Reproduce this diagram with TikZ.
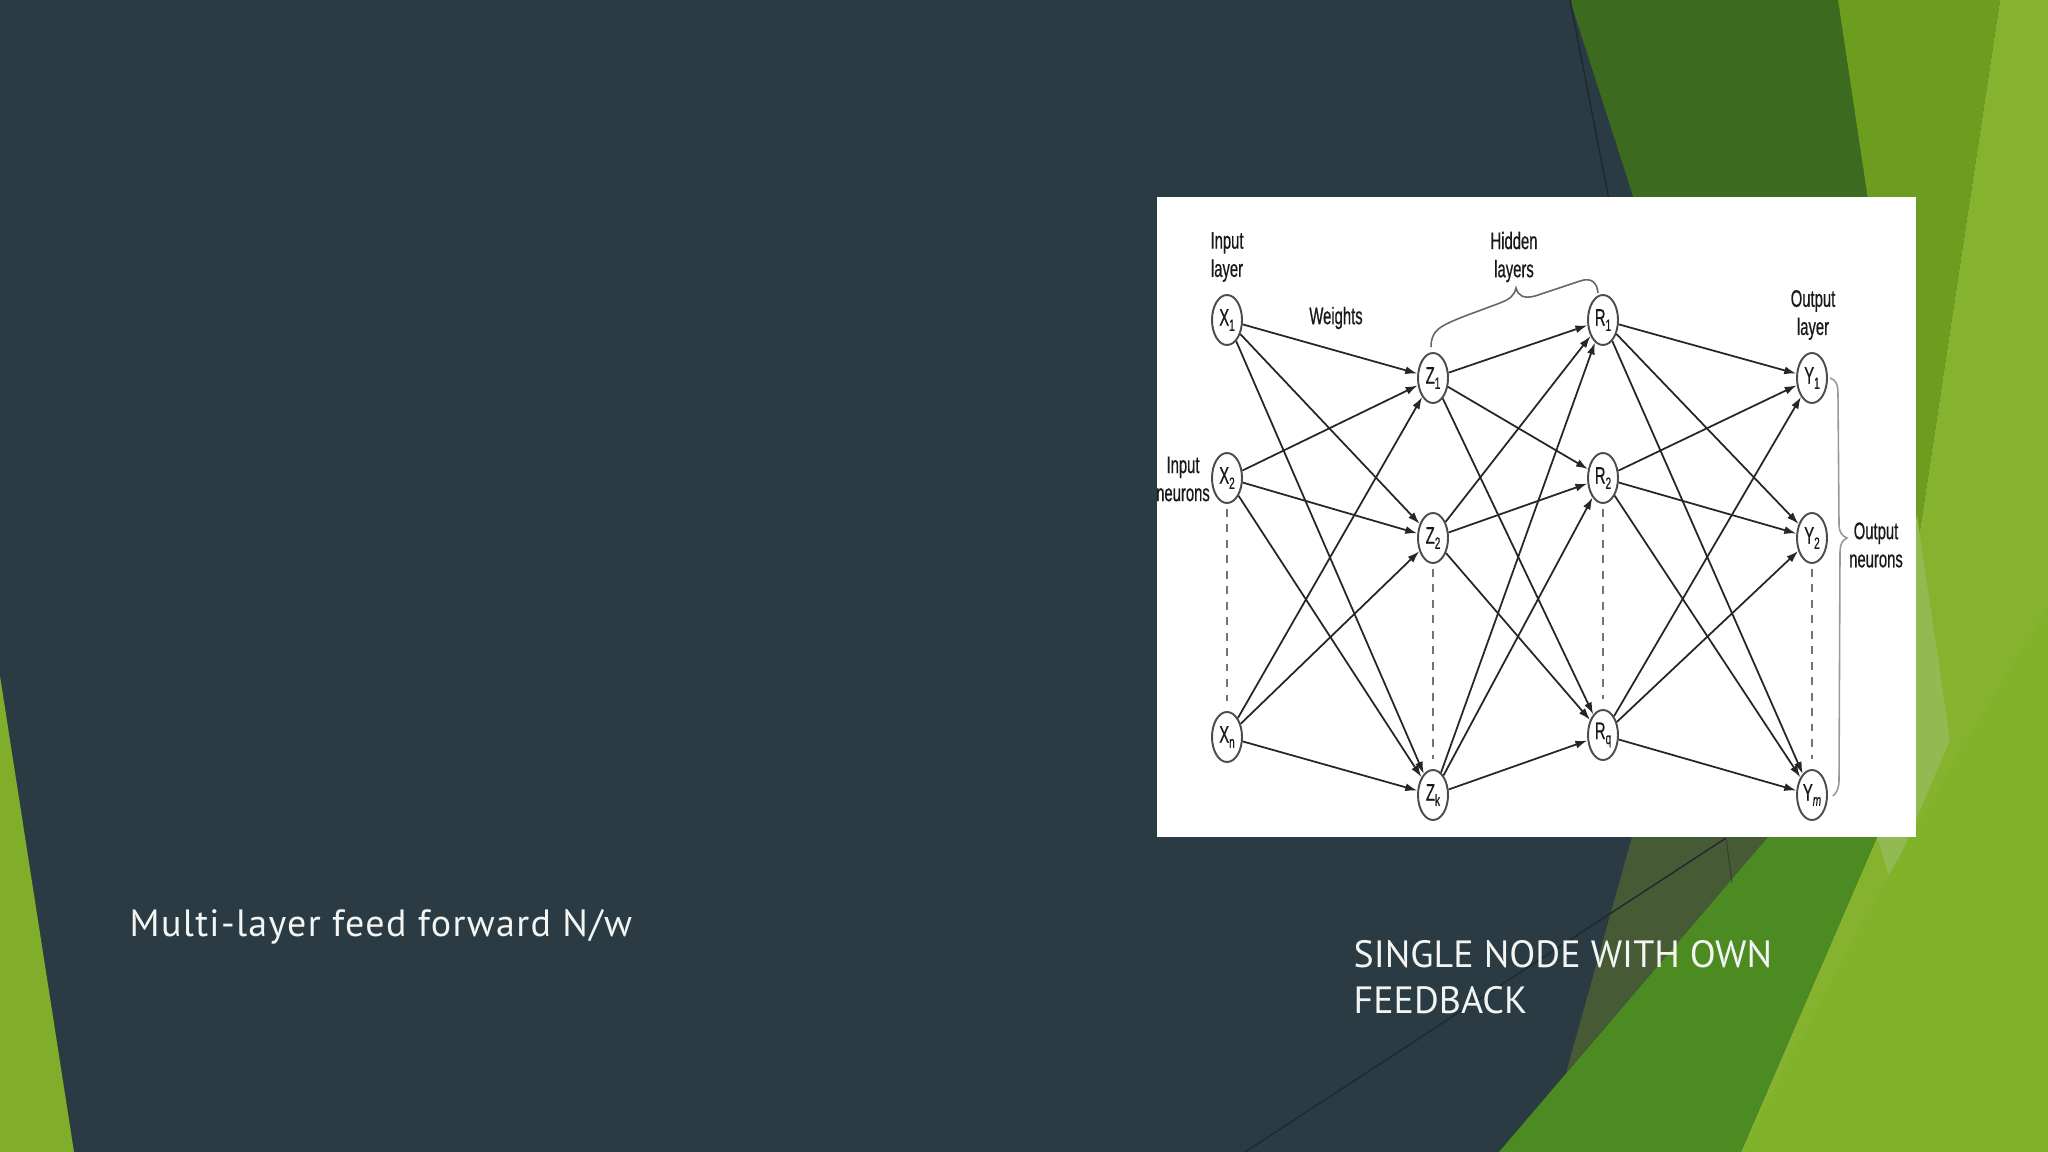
\documentclass[tikz,border=0pt]{standalone}
\usepackage{fontspec}
\setmainfont{PT Sans}
\newfontfamily\diagfont[FakeStretch=0.62,FakeBold=0.6]{Liberation Sans}
\usetikzlibrary{shapes.geometric,arrows.meta}
\definecolor{slate}{HTML}{2B3B43}
\definecolor{leftgreen}{HTML}{80AE2A}
\definecolor{dgreen}{HTML}{3C6A1F}
\definecolor{mgreen}{HTML}{6C9D1F}
\definecolor{lgreen}{HTML}{85B22F}
\definecolor{bgreen}{HTML}{80B22A}
\definecolor{pgreen}{HTML}{92BA52}
\definecolor{olive}{HTML}{475A36}
\definecolor{fgreen}{HTML}{4B8B22}
\definecolor{thinline}{HTML}{1E292F}
\definecolor{slidetext}{HTML}{F2F5F2}
\newcommand\sbs[1]{\raisebox{-0.4ex}{\fontsize{4.6pt}{5pt}\selectfont #1}}
\tikzset{
  neuron/.style={ellipse, draw=black!70, line width=0.55pt, fill=white,
    minimum width=0.30cm, minimum height=0.50cm, inner sep=0pt,
    font=\diagfont\fontsize{6.8pt}{7pt}\selectfont, text=black!90},
  conn/.style={draw=black!85, line width=0.5pt,
    -{Latex[length=0.12cm,width=0.08cm]}},
  dots/.style={draw=black!55, line width=0.45pt, dash pattern=on 2.2pt off 2.2pt},
  lbl/.style={font=\diagfont\fontsize{6.8pt}{8pt}\selectfont, text=black!90,
    align=center, inner sep=0pt},
  slidetxt/.style={font=\fontsize{10.8pt}{13.1pt}\selectfont, text=slidetext,
    inner sep=0pt, anchor=base west},
  bracestyle/.style={draw=black!60, line width=0.45pt},
}
\begin{document}
\begin{tikzpicture}[x=0.01cm,y=-0.01cm]
\useasboundingbox (0,0) rectangle (2048,1152);
% background
\fill[slate] (0,0) rectangle (2048,1152);
\fill[leftgreen] (0,676) -- (74,1152) -- (0,1152) -- cycle;
% top right facets
\fill[dgreen] (1570,0) -- (1838,0) -- (1880,280) -- (1660,280) -- cycle;
\fill[mgreen] (1838,0) -- (2000,0) -- (1917,550) -- (1880,280) -- cycle;
\fill[lgreen] (2000,0) -- (2048,0) -- (2048,1152) -- (1741,1152) -- (1877,837) -- (1917,550) -- cycle;
\fill[pgreen] (1917,515) -- (1950,740) -- (1890,880) -- (1877,837) -- (1900,600) -- cycle;
\fill[bgreen] (2048,607) -- (2048,1152) -- (1741,1152) -- (1880,890) -- (1957,757) -- cycle;
% bottom facets
\fill[olive] (1632,837) -- (1768,837) -- (1566,1073) -- cycle;
\fill[fgreen] (1768,837) -- (1877,837) -- (1741,1152) -- (1499,1152) -- cycle;
\draw[thinline, line width=0.4pt] (1570,0) -- (1609,200);
\draw[thinline, line width=0.4pt] (1726,838) -- (1245,1152);
\draw[thinline, line width=0.3pt, opacity=0.5] (1726,838) -- (1732,883);
% white image box
\fill[white] (1157,197) rectangle (1916,837);
\begin{scope}
\clip (1157,197) rectangle (1916,837);
% neurons
\node[neuron] (X1) at (1227,320) {X\sbs{1}};
\node[neuron] (X2) at (1227,478) {X\sbs{2}};
\node[neuron] (Xn) at (1227,737) {X\sbs{n}};
\node[neuron] (Z1) at (1433,378) {Z\sbs{1}};
\node[neuron] (Z2) at (1433,538) {Z\sbs{2}};
\node[neuron] (Zk) at (1433,795) {Z\sbs{k}};
\node[neuron] (R1) at (1603,320) {R\sbs{1}};
\node[neuron] (R2) at (1603,478) {R\sbs{2}};
\node[neuron] (Rq) at (1603,735) {R\sbs{q}};
\node[neuron] (Y1) at (1812,378) {Y\sbs{1}};
\node[neuron] (Y2) at (1812,538) {Y\sbs{2}};
\node[neuron] (Ym) at (1812,795) {Y\sbs{\itshape m}};
% connections
\foreach \a in {X1,X2,Xn}{\foreach \b in {Z1,Z2,Zk}{\draw[conn] (\a) -- (\b);}}
\foreach \a in {Z1,Z2,Zk}{\foreach \b in {R1,R2,Rq}{\draw[conn] (\a) -- (\b);}}
\foreach \a in {R1,R2,Rq}{\foreach \b in {Y1,Y2,Ym}{\draw[conn] (\a) -- (\b);}}
% dashed continuation
\draw[dots] ([yshift=-0.05cm]X2.south) -- ([yshift=0.1cm]Xn.north);
\draw[dots] ([yshift=-0.05cm]Z2.south) -- ([yshift=0.1cm]Zk.north);
\draw[dots] ([yshift=-0.05cm]R2.south) -- ([yshift=0.1cm]Rq.north);
\draw[dots] ([yshift=-0.05cm]Y2.south) -- ([yshift=0.1cm]Ym.north);
% labels
\node[lbl] (inlayer) at (1227,257) {Input\\layer};
\node[lbl] (weights) at (1336,318) {Weights};
\node[lbl] (hidden) at (1514,257) {Hidden\\layers};
\node[lbl] (inneur) at (1183,479) {Input\\neurons};
\node[lbl] (outlayer) at (1813,315) {Output\\layer};
\node[lbl] (outneur) at (1876,545) {Output\\neurons};
% hidden layers brace
\draw[bracestyle] (1431,347) .. controls (1431,330) and (1440,326) .. (1465,316)
  -- (1500,303) .. controls (1510,299) and (1514,296) .. (1516,288)
  .. controls (1518,296) and (1524,299) .. (1535,296)
  -- (1580,281) .. controls (1592,277) and (1597,283) .. (1598,293);
% output neurons brace
\draw[bracestyle, draw=black!40] (1830,378) .. controls (1836,380) and (1838,384) .. (1838,395)
  -- (1839,525) .. controls (1839,532) and (1842,536) .. (1847,538)
  .. controls (1842,540) and (1840,545) .. (1840,552)
  -- (1839,780) .. controls (1839,788) and (1837,792) .. (1833,796);
\end{scope}
% slide texts
\node[slidetxt, font=\addfontfeatures{LetterSpace=3.5}\fontsize{10.8pt}{13.1pt}\selectfont] (title1) at (129,936) {Multi-layer feed forward N/w};
\node[slidetxt] (title2a) at (1353,967) {SINGLE NODE WITH OWN};
\node[slidetxt] (title2b) at (1353,1013) {FEEDBACK};
\end{tikzpicture}
\end{document}
